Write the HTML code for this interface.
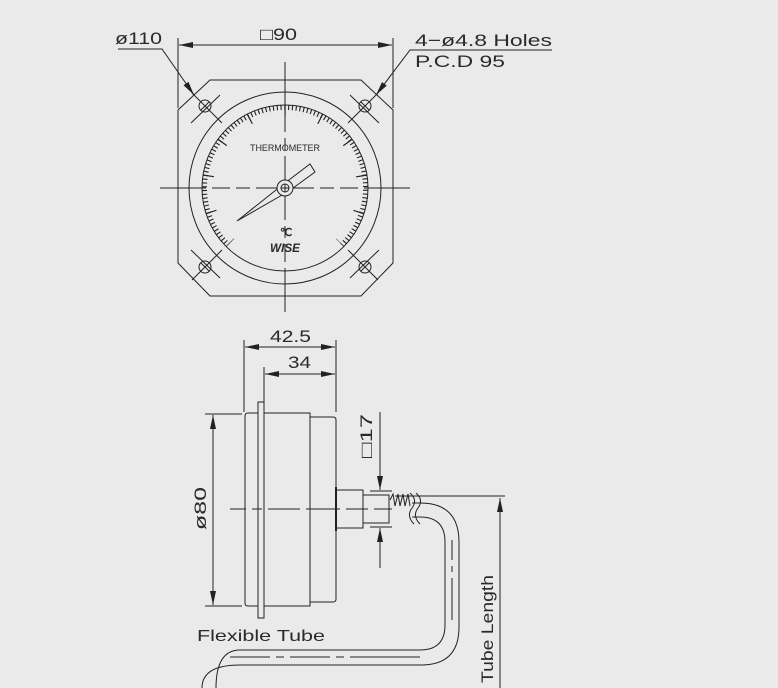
<!DOCTYPE html>
<html><head><meta charset="utf-8"><style>
html,body{margin:0;padding:0;background:#eaeaea;}
svg{display:block;}
text{font-family:"Liberation Sans",sans-serif;fill:#2a2a2a;}
</style></head><body>
<svg width="778" height="688" viewBox="0 0 778 688" xmlns="http://www.w3.org/2000/svg">
<defs>
<marker id="a" viewBox="0 0 14 6" refX="14" refY="3" markerWidth="14" markerHeight="6" markerUnits="userSpaceOnUse" orient="auto-start-reverse"><path d="M0,0 L14,3 L0,6 Z" fill="#222"/></marker>
</defs>
<rect width="778" height="688" fill="#eaeaea"/>
<g stroke="#222" fill="none" stroke-width="1">
<polygon points="210,80 361,80 393,110 393,263 361,296 210,296 178,263 178,110"/>
<circle cx="285" cy="188" r="96"/>
<circle cx="285" cy="188" r="83"/>
<path d="M228.1,244.9 A80.5,80.5 0 1 1 341.9,244.9" stroke-width="5" stroke-dasharray="1.1 2.69" stroke-dashoffset="0.55"/>
<path d="M230.2,242.8 A77.5,77.5 0 1 1 339.8,242.8" stroke-width="11" stroke-dasharray="1.2 35.32" stroke-dashoffset="0.6"/>
<path d="M160,188 H206 M212,188 H230 M236,188 H250 M256,188 H314 M320,188 H334 M340,188 H358 M364,188 H410"/>
<path d="M285,62 V108 M285,114 V132 M285,138 V150 M285,156 V220 M285,226 V238 M285,244 V262 M285,268 V312"/>
<g>
<circle cx="205" cy="106" r="6"/><path d="M201,102 L209,110 M209,102 L201,110 M192,93 L222,123 M191,123 L220,95"/>
<circle cx="365" cy="106" r="6"/><path d="M361,102 L369,110 M369,102 L361,110 M378,93 L348,123 M379,123 L350,95"/>
<circle cx="205" cy="267" r="6"/><path d="M201,263 L209,271 M209,263 L201,271 M192,280 L222,250 M191,250 L220,278"/>
<circle cx="365" cy="267" r="6"/><path d="M361,263 L369,271 M369,263 L361,271 M378,280 L348,250 M379,250 L350,278"/>
</g>
<polygon points="237,221 281,186 310,164 315,172 289,191" fill="#eaeaea"/>
<circle cx="285" cy="188" r="8" fill="#eaeaea"/>
<circle cx="285" cy="188" r="4"/><path d="M281,188 H289 M285,184 V192"/>
<path d="M178,38 V108 M393,38 V108"/>
<path d="M179,45 H392" marker-start="url(#a)" marker-end="url(#a)"/>
<path d="M118,49 H162 L194,95" marker-end="url(#a)"/>
<path d="M552,50 H410 L376,95" marker-end="url(#a)"/>
<rect x="258" y="402" width="6" height="216" fill="#eaeaea"/>
<path d="M264,413 H310 V606 H264 M258,413 H248 Q245,413 245,416 V603 Q245,606 248,606 H258"/>
<path d="M310,417 H333 Q336,417 336,420 V599 Q336,602 333,602 H310"/>
<path d="M336,487 V531" stroke-width="2"/>
<path d="M337,490 H363 V528 H337 M363,495 H389 V523 H363"/>
<path d="M390,500 l3,-6 l2,12 l3,-12 l2,12 l3,-12 l2,12 l3,-12 l2,12" />
<path d="M230,509 H246 M252,509 H262 M268,509 H300 M306,509 H340 M346,509 H368 M374,509 H392"/>
<path d="M244,340 V412 M336,340 V412 M264,367 V402"/>
<path d="M245,347 H335" marker-start="url(#a)" marker-end="url(#a)"/>
<path d="M265,374 H335" marker-start="url(#a)" marker-end="url(#a)"/>
<path d="M205,414 H242 M205,606 H242"/>
<path d="M213,415 V605" marker-start="url(#a)" marker-end="url(#a)"/>
<path d="M370,491 H392 M370,527 H392"/>
<path d="M380,412 V490" marker-end="url(#a)"/>
<path d="M380,568 V528" marker-end="url(#a)"/>
<path d="M395,496 H505"/>
<path d="M412,503 H420 Q459,503 459,542 V627 Q459,665 421,665 H240 Q202,665 202,688"/>
<path d="M412,517 H420 Q445,517 445,542 V625 Q445,650 420,650 H240 Q216,650 216,688"/>
<path d="M452,540 V560 M452,566 V572 M452,578 V620" />
<path d="M230,657 H270 M276,657 H284 M290,657 H330 M336,657 H344 M350,657 H420"/>
<path d="M410,493 Q418,500 412,508 Q406,516 414,524 M416,493 Q424,500 418,508 Q412,516 420,524"/>
<path d="M500,688 V498" marker-end="url(#a)"/>
</g>
<text x="250" y="151" font-size="9" textLength="70">THERMOMETER</text>
<text x="280" y="236" font-size="11" font-weight="bold">℃</text>
<text x="270" y="252" font-size="12" font-weight="bold" font-style="italic" textLength="30" lengthAdjust="spacingAndGlyphs">WISE</text>
<text x="115" y="44" font-size="17" textLength="47" lengthAdjust="spacingAndGlyphs">ø110</text>
<text x="260" y="40" font-size="17" textLength="37" lengthAdjust="spacingAndGlyphs">□90</text>
<text x="415" y="46" font-size="17" textLength="137" lengthAdjust="spacingAndGlyphs">4−ø4.8  Holes</text>
<text x="415" y="67" font-size="17" textLength="90" lengthAdjust="spacingAndGlyphs">P.C.D  95</text>
<text x="270" y="342" font-size="17" textLength="41" lengthAdjust="spacingAndGlyphs">42.5</text>
<text x="288" y="368" font-size="17" textLength="23" lengthAdjust="spacingAndGlyphs">34</text>
<text x="197" y="641" font-size="16" textLength="128" lengthAdjust="spacingAndGlyphs">Flexible  Tube</text>
<text transform="translate(206,530) rotate(-90)" font-size="17" textLength="43" lengthAdjust="spacingAndGlyphs">ø80</text>
<text transform="translate(372,458) rotate(-90)" font-size="17" textLength="44" lengthAdjust="spacingAndGlyphs">□17</text>
<text transform="translate(493,683) rotate(-90)" font-size="17" textLength="108" lengthAdjust="spacingAndGlyphs">Tube  Length</text>
</svg>
</body></html>
